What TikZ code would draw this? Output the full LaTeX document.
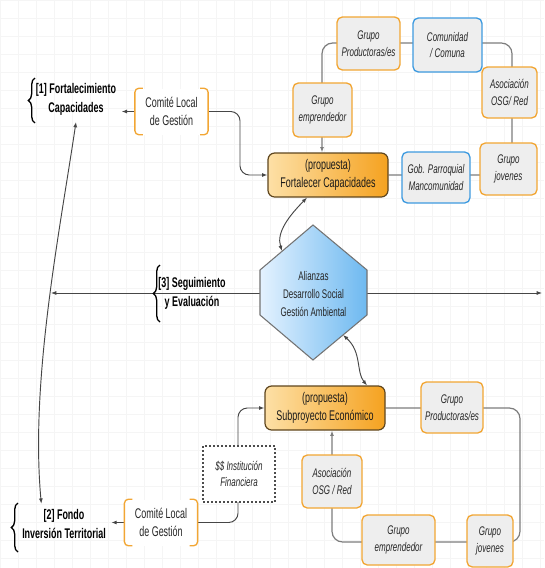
\documentclass[tikz,border=0pt]{standalone}
\usepackage{fontspec}
\setmainfont[FakeStretch=0.64]{Liberation Sans}
\usetikzlibrary{arrows.meta,decorations.pathreplacing,backgrounds}

\definecolor{boxorange}{RGB}{242,166,52}
\definecolor{boxblue}{RGB}{62,155,224}
\definecolor{boxgray}{RGB}{238,238,238}
\definecolor{linedark}{RGB}{70,70,70}
\definecolor{ciclogray}{RGB}{125,125,125}
\definecolor{propborder}{RGB}{95,70,30}
\definecolor{propleft}{RGB}{253,224,166}
\definecolor{propright}{RGB}{245,162,32}
\definecolor{hexleft}{RGB}{228,242,255}
\definecolor{hexright}{RGB}{110,185,240}

\begin{document}
\begin{tikzpicture}[x=0.75pt,y=-0.75pt,
  grupo/.style={draw=boxorange, fill=boxgray, line width=1pt, rounded corners=4pt, align=center, inner sep=1pt, text=black!85, font=\fontsize{9.4}{12.5}\selectfont\itshape},
  grupoazul/.style={grupo, draw=boxblue},
  propuesta/.style={draw=propborder, line width=0.9pt, rounded corners=5pt, left color=propleft, right color=propright, minimum width=90pt, minimum height=33pt, align=center, text=black!90, font=\fontsize{10.5}{14}\selectfont},
  comite/.style={fill=white, minimum width=54.5pt, minimum height=34.5pt, align=center, text=black!85, font=\fontsize{10.5}{13.5}\selectfont},
  etiqueta/.style={align=center, inner xsep=4pt, inner ysep=1pt, font=\fontsize{10.5}{14.25}\selectfont\bfseries},
  hexa/.style={draw=black!55, line width=0.8pt, left color=hexleft, right color=hexright},
  hextexto/.style={align=center, text=black!85, font=\fontsize{9.4}{13.75}\selectfont},
  dashbox/.style={draw=black!70, fill=white, line width=0.8pt, dash pattern=on 1.5pt off 1.5pt, minimum width=54pt, minimum height=42pt, align=center, text=black!85, font=\fontsize{9.4}{12.5}\selectfont\itshape},
  conn/.style={draw=linedark, line width=0.7pt, -{Latex[length=4pt,width=3pt]}},
  doble/.style={draw=linedark, line width=0.7pt, {Latex[length=4pt,width=3pt]}-{Latex[length=4pt,width=3pt]}},
  ciclo/.style={draw=ciclogray, line width=0.9pt, rounded corners=8pt, -{Latex[length=4pt,width=3pt]}},
  corchete/.style={draw=boxorange, line width=1pt, rounded corners=3pt},
  llave/.style={draw=black, line width=1pt, decorate, decoration={brace, amplitude=5pt}},
  rejilla/.style={draw=black!4, line width=0.4pt}
]
\useasboundingbox (0,0) rectangle (544,568);

% upper half: capacity building
\node[grupo, minimum width=47.25pt, minimum height=39.75pt] (gp1) at (368.5,43.5) {Grupo\\Productoras/es};
\node[grupoazul, minimum width=51.75pt, minimum height=40.5pt] (com) at (447.5,45) {Comunidad\\/ Comuna};
\node[grupo, minimum width=41.25pt, minimum height=38.25pt] (aso1) at (509.5,92.5) {Asociación\\OSG/ Red};
\node[grupo, minimum width=44.25pt, minimum height=40.5pt] (emp1) at (322.5,110) {Grupo\\emprendedor};
\node[grupo, minimum width=42.75pt, minimum height=39pt] (jov1) at (508.5,169) {Grupo\\jovenes};
\node[grupoazul, minimum width=51pt, minimum height=38.25pt] (gob) at (436,177.5) {Gob. Parroquial\\Mancomunidad};
\node[propuesta] (fort) at (328,175) {(propuesta)\\Fortalecer Capacidades};
\node[comite] (cl1) at (171.5,111.5) {Comité Local\\de Gestión};
\node[etiqueta] (lab1) at (76,99) {[1] Fortalecimiento\\Capacidades};

% hexagon in the middle
\coordinate (hN) at (313,225);
\coordinate (hNE) at (367,270);
\coordinate (hSE) at (367,315);
\coordinate (hS) at (313,360);
\coordinate (hSW) at (260,315);
\coordinate (hNW) at (260,270);
\draw[hexa] (hN) -- (hNE) -- (hSE) -- (hS) -- (hSW) -- (hNW) -- cycle;
\node[hextexto] (hex) at (313.5,294) {Alianzas\\Desarrollo Social\\Gestión Ambiental};
\coordinate (hexA) at (282,251);
\coordinate (hexB) at (343,335);
\coordinate (hexL) at (260,293);
\coordinate (hexR) at (367,293);
\coordinate (izq) at (51,293);
\coordinate (der) at (542,293);
\node[etiqueta] (lab3) at (192,293) {[3] Seguimiento\\y Evaluación};

% lower half: economic subproject
\node[propuesta] (sub) at (325,408) {(propuesta)\\Subproyecto Económico};
\node[grupo, minimum width=46.5pt, minimum height=38.25pt] (gp2) at (452,407.5) {Grupo\\Productoras/es};
\node[grupo, minimum width=45pt, minimum height=39.75pt] (aso2) at (332,481.5) {Asociación\\OSG / Red};
\node[grupo, minimum width=54.75pt, minimum height=37.5pt] (emp2) at (398.5,540) {Grupo\\emprendedor};
\node[grupo, minimum width=34.5pt, minimum height=39pt] (jov2) at (490,541) {Grupo\\jovenes};
\node[dashbox] (fin) at (239,474) {\$\$ Institución\\Financiera};
\node[comite] (cl2) at (161,522.5) {Comité Local\\de Gestión};
\node[etiqueta] (lab2) at (64,524) {[2] Fondo\\Inversión Territorial};

% brackets of the committee boxes
\foreach \c in {cl1,cl2} {
  \draw[corchete] ([xshift=6pt]\c.north west) -- (\c.north west) -- (\c.south west) -- ([xshift=6pt]\c.south west);
  \draw[corchete] ([xshift=-6pt]\c.north east) -- (\c.north east) -- (\c.south east) -- ([xshift=-6pt]\c.south east);
}

% braces
\draw[llave] (35,123) -- (35,78);
\draw[llave] (18,552) -- (18,503);
\draw[llave] (160,322) -- (160,265);

\begin{scope}[on background layer]
  \fill[white] (0,0) rectangle (544,568);
  \foreach \g in {0,18,...,544} \draw[rejilla] (\g,0) -- (\g,568);
  \foreach \g in {0,18,...,568} \draw[rejilla] (0,\g) -- (544,\g);

  \draw[ciclo] (fort.east) -- (512,175) -- (512,43) -- (322,43) -- ([xshift=-4.5pt]fort.north);
  \draw[ciclo] (sub.east) -- (520,408) -- (520,542) -- (332,542) -- ([xshift=5.25pt]sub.south);

  \draw[conn] (cl1.west) -- (cl1.west -| lab1.east);
  \draw[conn, rounded corners=7pt] (cl1.east) -| (240,175) -- (fort.west);
  \draw[conn] (cl2.west) -- (cl2.west -| lab2.east);
  \draw[conn, rounded corners=7pt] (cl2.east) -| (238,408) -- (sub.west);

  \draw[doble] ([xshift=-15.75pt]fort.south) .. controls (290,215) and (276,232) .. (hexA);
  \draw[doble] (hexB) .. controls (362,352) and (356,372) .. ([xshift=31.5pt]sub.north);
  \draw[doble] ([yshift=-4pt]lab1.south) .. controls (60,230) and (30,380) .. ([xshift=-17pt,yshift=3pt]lab2.north);

  \draw[conn] (hexL) -- (izq);
  \draw[conn] (hexR) -- (der);
\end{scope}

\end{tikzpicture}
\end{document}
